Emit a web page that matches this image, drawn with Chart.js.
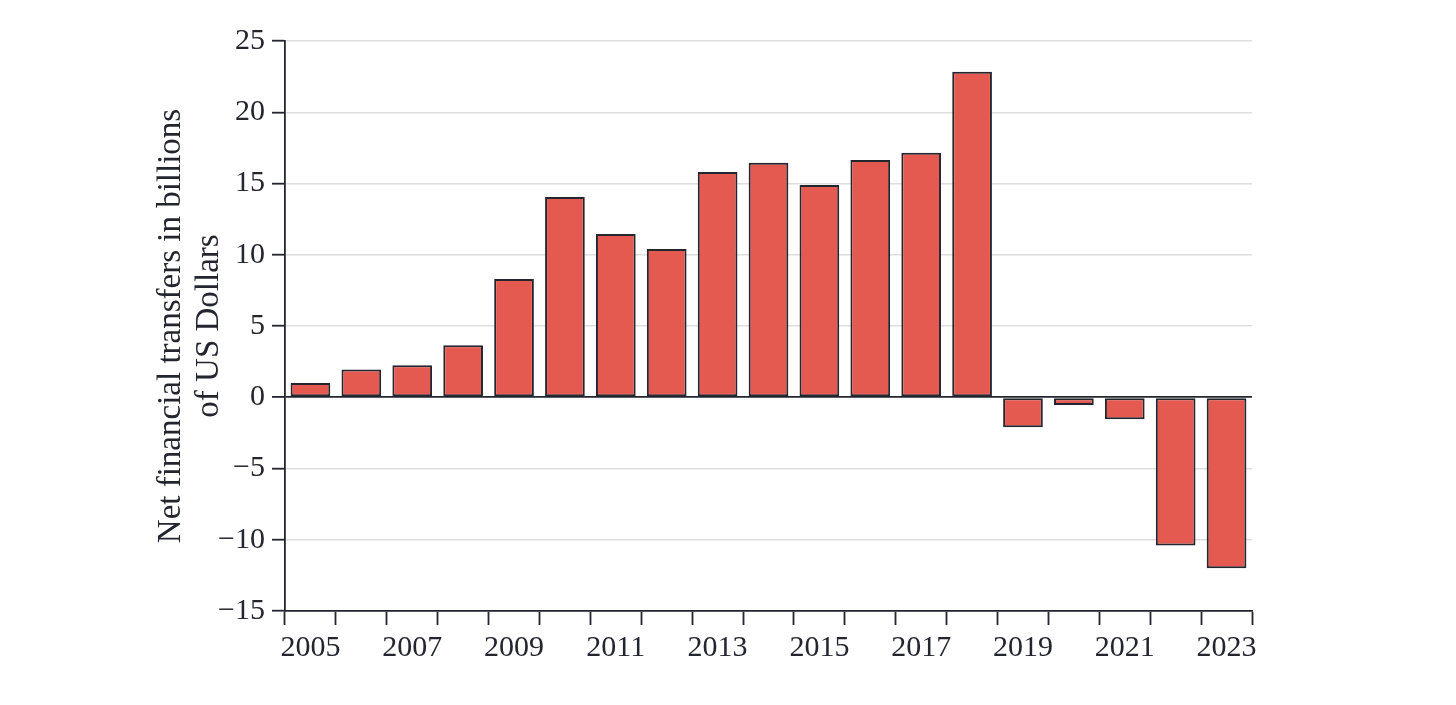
<!DOCTYPE html>
<html>
<head>
<meta charset="utf-8">
<script src="https://cdn.jsdelivr.net/npm/chart.js@4/dist/chart.umd.min.js"></script>
<style>
  html, body { margin: 0; padding: 0; background: #fff; }
  canvas { display: block; }
</style>
</head>
<body>
<canvas id="myChart" width="1456" height="705"></canvas>
<script>
// data (billions of US dollars)
const years = [2005, 2006, 2007, 2008, 2009, 2010, 2011, 2012, 2013, 2014,
               2015, 2016, 2017, 2018, 2019, 2020, 2021, 2022, 2023]
const transfers = [1.0, 1.95, 2.25, 3.65, 8.3, 14.05, 11.45, 10.4, 15.8, 16.45,
                   14.9, 16.65, 17.15, 22.85, -2.1, -0.55, -1.55, -10.4, -12.0]
const yTicks = [-15, -10, -5, 0, 5, 10, 15, 20, 25]
const yTitle = ['Net financial transfers in billions', 'of US Dollars']

const ink = '#23252f'
const serif = "'Liberation Serif', 'Times New Roman', serif"

let ctx = document.getElementById('myChart').getContext('2d')

let data = {
	labels: years.map(String),
	datasets: [{
		data: transfers,
		backgroundColor: '#e55a50',
		borderColor: ink,
		borderWidth: 2,
		borderSkipped: false,
		categoryPercentage: 1,
		barPercentage: 0.78
	}]
}

let myBarChart = new Chart(ctx, {
	type: 'bar',
	data: data,
	options: {
		responsive: false,
		animation: false,
		devicePixelRatio: 1,
		layout: {
			padding: { left: 152, right: 204, top: 41, bottom: 0 }
		},
		plugins: {
			legend: { display: false },
			tooltip: { enabled: false }
		},
		scales: {
			x: {
				offset: true,
				grid: {
					offset: true,
					drawOnChartArea: false,
					tickLength: 14,
					tickColor: ink,
					tickWidth: 1.8
				},
				border: { display: true, color: ink, width: 1.8 },
				ticks: {
					autoSkip: false,
					maxRotation: 0,
					padding: 5,
					color: ink,
					font: { family: serif, size: 30 },
					callback: (v, i) => years[i] % 2 === 1 ? String(years[i]) : ''
				},
				afterFit: s => { s.height = 94 }
			},
			y: {
				min: yTicks[0],
				max: yTicks[yTicks.length - 1],
				afterBuildTicks: s => { s.ticks = yTicks.map(v => ({ value: v })) },
				grid: {
					color: c => c.tick && c.tick.value === 0 ? ink : '#dedede',
					lineWidth: c => c.tick && c.tick.value === 0 ? 1.8 : 1.4,
					tickLength: 13,
					tickColor: ink,
					tickWidth: 1.8
				},
				border: { display: true, color: ink, width: 1.8 },
				ticks: {
					padding: 7,
					color: ink,
					font: { family: serif, size: 30 },
					callback: v => v < 0 ? '\u2212' + Math.abs(v) : String(v)
				},
				title: {
					display: true,
					text: yTitle,
					color: ink,
					padding: 0,
					font: { family: serif, size: 33, lineHeight: 1.15 }
				},
				afterFit: s => { s.width = 133 }
			}
		}
	}
})
</script>
</body>
</html>
